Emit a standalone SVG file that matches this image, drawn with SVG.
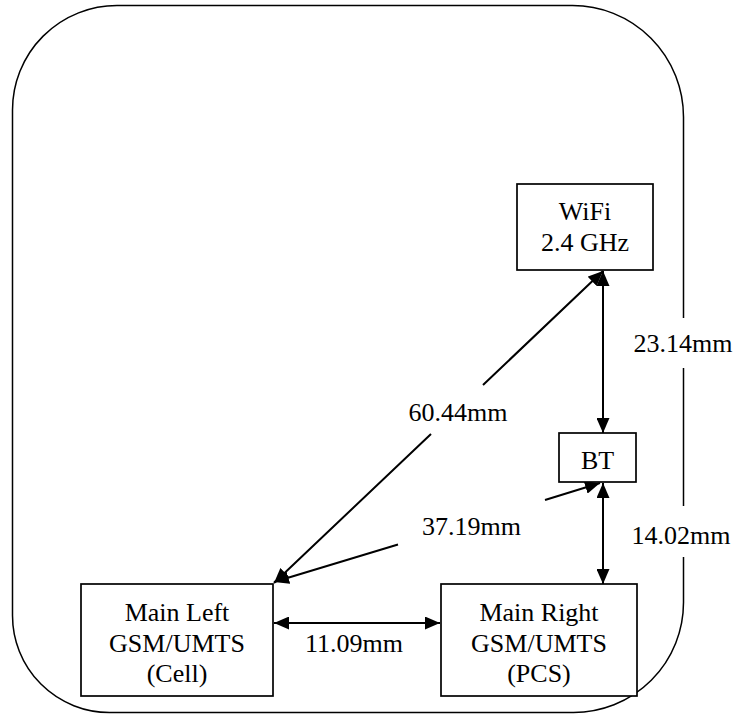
<svg xmlns="http://www.w3.org/2000/svg" width="736" height="714" viewBox="0 0 736 714">
  <style>
    .box { fill: #ffffff; stroke: #000000; stroke-width: 1.7; }
    .outline { fill: none; stroke: #000000; stroke-width: 1.5; }
    text { font-family: 'Liberation Serif', 'Times New Roman', 'DejaVu Serif', serif; font-size: 26px; fill: #000000; text-anchor: middle; }
    .arr { fill: none; stroke: #000000; stroke-width: 2; marker-start: url(#ah); marker-end: url(#ah); }
  </style>
  <defs>
    <marker id="ah" markerUnits="userSpaceOnUse" markerWidth="15" markerHeight="13" refX="15" refY="6.5" orient="auto-start-reverse" viewBox="0 0 15 13">
      <path d="M0,0 L15,6.5 L0,13 Z" fill="#000000"/>
    </marker>
  </defs>
  <rect width="736" height="714" fill="#ffffff"/>

  <g id="housing">
    <path class="outline" d="M683.5,318 V117 A111,111.5 0 0 0 572.5,5.5 H117 A104.5,104.5 0 0 0 12.5,110 V615.5 A97,97 0 0 0 109.5,712.5 H573.5 A110,110 0 0 0 683.5,602.5 V557"/>
    <path class="outline" d="M683.5,368 V506"/>
  </g>

  <g id="labels" font-family="'Liberation Serif', 'Times New Roman', serif" font-size="26" text-anchor="middle">
    <text x="683" y="352">23.14mm</text>
    <text x="681" y="544">14.02mm</text>
  </g>

  <g id="connectors">
    <path class="arr" d="M274,623 H440"/>
    <path class="arr" d="M603,271 V433"/>
    <path class="arr" d="M603,483 V584"/>
    <path class="arr" d="M274,583 L431,434 M483,385 L603,271"/>
    <path class="arr" d="M274,582 L398,544.5 M545,500 L600,483"/>
    <g font-family="'Liberation Serif', 'Times New Roman', serif" font-size="26" text-anchor="middle">
      <text x="458" y="421">60.44mm</text>
      <text x="471.5" y="535">37.19mm</text>
      <text x="354" y="652">11.09mm</text>
    </g>
  </g>

  <g id="wifi" font-family="'Liberation Serif', 'Times New Roman', serif" font-size="26" text-anchor="middle">
    <rect class="box" x="517" y="184" width="136" height="86"/>
    <text x="585" y="220">WiFi</text>
    <text x="585" y="251">2.4 GHz</text>
  </g>

  <g id="bt" font-family="'Liberation Serif', 'Times New Roman', serif" font-size="26" text-anchor="middle">
    <rect class="box" x="559" y="433" width="77" height="49"/>
    <text x="597.5" y="469">BT</text>
  </g>

  <g id="main-left" font-family="'Liberation Serif', 'Times New Roman', serif" font-size="26" text-anchor="middle">
    <rect class="box" x="81" y="584" width="192" height="112"/>
    <text x="177" y="621">Main Left</text>
    <text x="177" y="651.5">GSM/UMTS</text>
    <text x="177" y="682">(Cell)</text>
  </g>

  <g id="main-right" font-family="'Liberation Serif', 'Times New Roman', serif" font-size="26" text-anchor="middle">
    <rect class="box" x="441" y="584" width="196" height="112"/>
    <text x="539" y="621">Main Right</text>
    <text x="539" y="651.5">GSM/UMTS</text>
    <text x="539" y="682">(PCS)</text>
  </g>
</svg>
